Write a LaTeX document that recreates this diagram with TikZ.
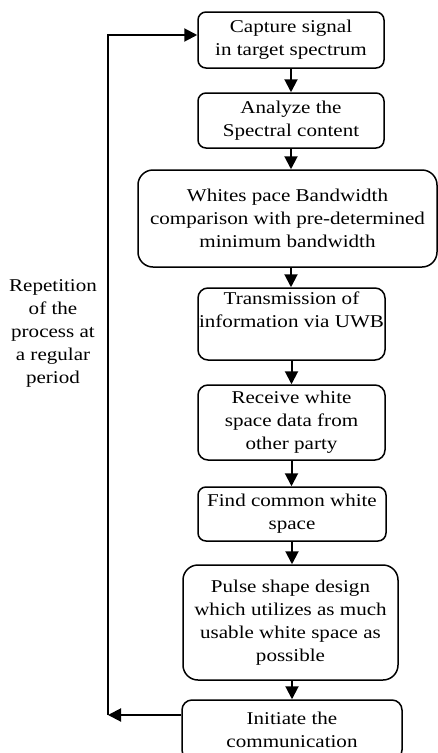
\documentclass[tikz,border=0pt]{standalone}
\usepackage{fontspec}
\setmainfont[FakeStretch=1.17]{Liberation Serif}
\usetikzlibrary{arrows.meta}
\begin{document}
\begin{tikzpicture}[x=1pt,y=-1pt,
  txt/.style={align=center, inner sep=0pt, font=\fontsize{18}{23}\selectfont},
  box/.style={txt, draw, line width=1.5pt, rounded corners=8pt},
  bigbox/.style={box, rounded corners=15pt},
  flow/.style={line width=2pt, -{Triangle[length=13pt,width=13pt]}},
  ]
\useasboundingbox (0,0) rectangle (438,753);
\clip (0,0) rectangle (438,753);
\node[box, minimum width=186pt, minimum height=56pt] (b1) at (291,40) {Capture signal\\in target spectrum};
\node[box, minimum width=186pt, minimum height=55pt] (b2) at (291,120.5) {Analyze the\\Spectral content};
\node[bigbox, minimum width=299pt, minimum height=97pt] (b3) at (287.5,218.5) {Whites pace Bandwidth\\comparison with pre-determined\\minimum bandwidth};
\node[box, rounded corners=10pt, minimum width=187pt, minimum height=72pt] (b4) at (291.5,324) {Transmission of\\information via UWB\\[6pt]};
\node[box, rounded corners=10pt, minimum width=187pt, minimum height=75pt] (b5) at (291.5,422.5) {Receive white\\space data from\\other party};
\node[box, minimum width=188pt, minimum height=54pt] (b6) at (292,514) {Find common white\\space};
\node[bigbox, minimum width=215pt, minimum height=115pt] (b7) at (290.5,622.5) {Pulse shape design\\which utilizes as much\\usable white space as\\possible};
\node[box, rounded corners=10pt, minimum width=220pt, minimum height=60pt] (b8) at (292,730) {Initiate the\\communication};
\node[txt] (lbl) at (53,333) {Repetition\\of the\\process at\\a regular\\period};

\draw[flow] (b1.south) -- (b1.south |- b2.north);
\draw[flow] (b2.south) -- (b2.south |- b3.north);
\draw[flow] (b2.south |- b3.south) -- (b2.south |- b4.north);
\draw[flow] (b4.south) -- (b4.south |- b5.north);
\draw[flow] (b5.south) -- (b5.south |- b6.north);
\draw[flow] (b6.south) -- (b6.south |- b7.north);
\draw[flow] (b6.south |- b7.south) -- (b6.south |- b8.north);

\coordinate (lt) at (108,35);
\coordinate (lb) at (108,715);
\draw[flow] (b8.west |- lb) -- (lb);
\draw[flow] (lb) -- (lt) -- (b1.west |- lt);
\end{tikzpicture}
\end{document}
